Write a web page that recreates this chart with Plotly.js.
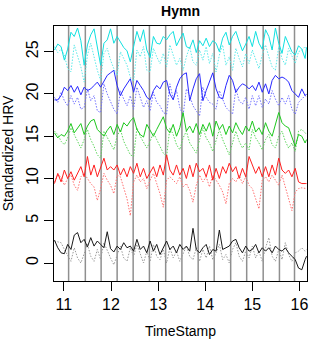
<!DOCTYPE html>
<html>
<head>
<meta charset="utf-8">
<script src="https://cdn.plot.ly/plotly-3.0.1.min.js"></script>
<style>html,body{margin:0;padding:0;background:#fff;}#chart{width:313px;height:342px;}</style>
</head>
<body>
<div id="chart"></div>
<script>
var timeStamp = [10.80,10.87,10.94,11.01,11.08,11.15,11.22,11.29,11.36,11.43,11.50,11.57,11.64,11.71,11.78,11.85,11.92,11.99,12.06,12.13,12.20,12.27,12.34,12.41,12.48,12.55,12.62,12.69,12.76,12.83,12.90,12.97,13.04,13.11,13.18,13.25,13.32,13.39,13.46,13.53,13.60,13.67,13.74,13.81,13.88,13.95,14.02,14.09,14.16,14.23,14.30,14.37,14.44,14.51,14.58,14.65,14.72,14.79,14.86,14.93,15.00,15.07,15.14,15.21,15.28,15.35,15.42,15.49,15.56,15.63,15.70,15.77,15.84,15.91,15.98,16.05,16.12,16.15];

var cyanSolid = [25.2,25.9,25.6,24.0,25.3, 27.3,26.8,27.8,26.3,23.4, 25.8,27.0,27.7,25.6,23.4, 26.0,26.4,27.7,26.0,26.8, 26.2,25.5,25.1,23.8,25.6, 27.4,26.2,27.6,25.2,24.3, 26.8,26.0,25.9,26.8,26.4, 27.0,27.4,25.7,26.5,27.2, 25.6,25.4,26.4,24.9,26.3, 25.7,26.6,25.6,26.3,26.0, 25.0,26.6,27.3,25.8,26.8, 27.4,26.2,25.1,25.9,26.8, 25.6,27.4,26.0,25.3,27.6, 26.8,25.2,27.8,26.0,24.8, 26.8,25.8,25.0,24.6,25.7, 25.3,24.2,25.5];
var cyanDotted = [25.6,24.9,25.3,24.6,23.0, 22.6,25.8,24.4,23.2,21.4, 24.6,26.0,24.2,22.8,21.6, 24.8,25.4,24.0,23.0,22.2, 25.0,24.2,23.4,22.0,21.5, 25.2,24.4,25.6,22.8,22.6, 25.4,24.4,23.6,24.8,23.2, 25.8,24.6,23.4,24.2,22.8, 24.4,25.6,23.8,23.4,25.2, 24.0,25.6,23.6,24.8,22.6, 24.6,25.8,23.4,24.4,22.8, 25.4,24.2,23.2,24.8,23.6, 25.2,24.0,23.0,24.6,25.8, 24.4,23.2,22.8,25.6,24.2, 23.4,25.4,24.4,23.6,25.0, 25.2,25.6,25.4];
var blueSolid = [19.3,19.3,19.8,20.8,20.4, 21.0,20.2,20.9,19.9,20.8, 20.4,20.6,21.0,21.4,20.8, 21.6,22.2,22.5,22.8,21.0, 19.8,20.6,21.2,21.8,20.2, 21.6,21.0,20.4,19.6,19.3, 20.4,21.0,20.6,21.4,21.6, 20.0,19.3,20.8,21.8,22.3, 22.5,19.2,20.6,21.8,22.4, 19.2,20.4,21.4,22.5,20.6, 19.6,19.4,21.0,22.2,21.6, 20.2,20.8,21.2,21.0,20.6, 21.0,20.4,21.4,20.2,21.2, 20.0,21.6,22.2,21.8,22.0, 21.8,21.4,20.4,20.0,19.6, 20.6,19.8,20.0];
var blueDotted = [19.6,19.0,20.2,19.2,18.6, 19.8,18.8,19.6,18.2,18.4, 20.6,19.2,19.8,18.0,17.8, 21.2,20.0,19.0,18.2,17.6, 20.4,19.4,18.6,19.8,18.2, 20.8,19.6,18.4,19.2,18.0, 20.2,19.0,18.6,17.8,17.6, 21.2,19.4,20.4,18.4,17.5, 20.6,19.8,18.6,18.0,17.4, 20.8,19.6,19.0,18.8,18.2, 20.4,19.4,18.4,18.0,17.6, 20.6,19.2,18.8,19.6,18.2, 19.8,18.6,19.8,18.4,19.4, 18.8,20.4,19.4,18.6,19.6, 18.8,19.8,18.2,17.6,19.0, 19.4,19.8,19.6];
var greenSolid = [15.4,14.8,15.2,15.0,15.6, 16.5,15.4,15.9,16.5,15.2, 16.2,16.8,17.0,15.8,15.4, 15.0,15.7,16.2,15.2,16.4, 15.5,16.6,16.2,16.8,17.2, 15.8,15.2,14.9,16.4,15.6, 15.0,15.8,16.6,17.3,15.9, 15.4,16.4,15.0,16.0,17.8, 15.6,16.2,15.4,16.5,15.2, 16.4,15.6,16.6,15.0,16.8, 15.8,16.4,15.2,16.2,15.4, 16.6,15.8,15.2,16.2,15.6, 16.8,15.5,16.0,15.2,16.6, 15.6,15.0,16.4,17.8,16.6, 16.2,16.0,14.8,13.8,15.2, 15.0,14.2,14.6];
var greenDotted = [15.6,15.2,14.4,14.0,14.8, 16.0,15.2,14.4,13.6,14.6, 15.8,14.6,13.8,12.8,12.4, 15.6,14.8,14.0,13.4,15.0, 15.8,14.4,13.6,12.8,12.6, 16.0,15.0,14.2,13.6,14.4, 15.4,14.6,13.8,13.0,12.6, 16.0,15.2,14.0,13.4,14.8, 15.6,14.2,13.6,13.0,14.6, 16.0,14.8,14.2,13.2,14.4, 15.8,14.6,13.8,12.8,14.2, 15.6,14.4,13.6,14.2,13.4, 15.8,14.8,14.2,13.4,14.6, 15.2,14.0,13.6,15.0,15.6, 14.4,13.6,14.2,13.2,15.6, 15.8,15.4,15.2];
var redSolid = [9.4,10.6,9.6,11.0,10.0, 10.8,9.8,10.6,11.4,10.2, 12.6,10.4,11.6,10.2,11.2, 12.4,11.0,11.4,11.0,11.6, 10.4,11.2,10.2,11.4,10.6, 11.8,10.2,11.2,10.0,10.8, 11.4,10.2,11.6,10.4,12.8, 11.0,10.4,11.6,10.4,11.2, 10.0,11.6,10.2,11.8,10.8, 11.2,10.2,11.6,9.8,11.2, 10.0,11.4,10.6,11.8,10.8, 11.4,10.0,11.2,10.2,12.6, 11.6,10.6,11.4,10.2,11.4, 10.2,11.6,10.4,12.4,11.0, 10.6,11.0,10.2,11.2,9.6, 9.4,9.4,9.4];
var redDotted = [9.6,10.4,10.2,9.2,10.0, 10.4,9.2,8.6,10.2,10.6, 10.0,9.4,9.0,7.4,8.8, 10.6,9.8,9.2,8.2,10.4, 10.2,9.0,7.6,5.6,9.6, 10.4,9.6,10.0,8.8,9.8, 10.6,9.4,8.2,6.6,9.8, 10.2,9.8,9.4,10.2,9.0, 9.4,8.6,7.2,9.2,10.4, 9.6,10.2,9.0,10.4,9.8, 9.2,8.4,7.0,9.4,10.0, 9.6,10.4,9.4,10.2,9.2, 8.8,7.6,6.4,9.8,10.2, 9.6,10.4,9.8,9.2,10.4, 9.0,7.8,6.2,8.4,8.8, 8.9,8.8,8.8];
var blackSolid = [2.7,1.8,1.2,1.1,2.2, 1.6,3.3,3.6,2.4,2.8, 1.9,3.0,2.0,2.6,2.2, 1.8,3.7,1.7,1.3,2.0, 1.6,2.4,1.8,2.0,1.4, 2.8,1.6,2.0,1.2,2.6, 1.4,2.2,1.0,1.8,2.6, 1.6,2.0,1.2,2.2,1.6, 2.0,1.4,4.1,1.6,1.2, 1.8,2.2,1.0,1.6,1.4, 3.9,1.6,1.8,2.0,2.6, 2.8,1.8,1.2,2.0,1.4, 1.6,2.2,1.2,1.8,1.4, 1.8,1.2,2.0,1.6,1.4, 1.8,1.2,0.8,0.4,-0.6, -0.8,0.4,0.8];
var greyDotted = [2.6,2.5,2.4,1.6,0.8, 0.2,1.8,0.6,0.0,1.2, 2.2,0.8,0.2,1.6,0.4, 2.4,1.4,0.6,-0.2,1.0, 2.0,0.6,0.2,1.8,0.8, 2.2,1.0,0.0,1.4,0.2, 2.2,0.8,0.4,1.6,0.0, 1.8,0.6,1.4,0.2,1.2, 2.0,0.8,0.4,1.8,0.2, 1.6,0.6,2.0,0.4,1.2, 2.2,0.4,1.0,0.0,1.6, 2.4,0.8,0.2,1.4,0.6, 2.0,0.6,1.4,0.2,1.8, 3.0,0.8,0.2,1.6,0.4, 2.4,1.0,0.2,1.2,1.4, 1.8,1.4,1.6];

var segmentMarks = [11.10,11.455,11.79,12.13,12.47,12.815,13.16,13.505,13.85,14.19,14.54,14.88,15.23,15.575,15.895];
var xTickVals = [11,12,13,14,15,16];
var yTickVals = [0,5,10,15,20,25];

var seriesList = [
  {y: greyDotted, color: '#9a9a9a', dash: '1.5px,1.5px'},
  {y: redDotted, color: '#ff7070', dash: '1.5px,1.5px'},
  {y: greenDotted, color: '#5cd65c', dash: '1.5px,1.5px'},
  {y: blueDotted, color: '#7373ff', dash: '1.5px,1.5px'},
  {y: cyanDotted, color: '#5ceaea', dash: '1.5px,1.5px'},
  {y: blackSolid, color: '#1a1a1a', dash: 'solid'},
  {y: redSolid, color: '#ff2020', dash: 'solid'},
  {y: greenSolid, color: '#1ec81e', dash: 'solid'},
  {y: blueSolid, color: '#2828ff', dash: 'solid'},
  {y: cyanSolid, color: '#10e0e0', dash: 'solid'}
];

var traces = seriesList.map(function(s){
  return {x: timeStamp, y: s.y, type: 'scatter', mode: 'lines',
    line: {color: s.color, width: 1, dash: s.dash}, hoverinfo: 'skip', showlegend: false};
});

var shapes = segmentMarks.map(function(v){
  return {type: 'line', xref: 'x', yref: 'paper', x0: v, x1: v, y0: 0, y1: 1,
    line: {color: '#8f8f8f', width: 1.5}, layer: 'below'};
});

var fontFam = '"Liberation Sans", Arial, sans-serif';
var layout = {
  width: 313, height: 342,
  margin: {l: 54, r: 6, t: 26, b: 61, pad: 0},
  paper_bgcolor: '#ffffff', plot_bgcolor: '#ffffff',
  font: {family: fontFam, color: '#000000'},
  title: {text: '<b>Hymn</b>', font: {size: 14, family: fontFam, color: '#000'},
    xref: 'paper', x: 0.5, xanchor: 'center', y: 0.968, yanchor: 'middle'},
  xaxis: {range: [10.79, 16.16], tickvals: xTickVals, ticktext: xTickVals.map(String),
    ticks: 'outside', ticklen: 9, tickwidth: 1, tickcolor: '#000',
    tickfont: {size: 16}, showline: true, mirror: true, linecolor: '#000', linewidth: 1,
    showgrid: false, zeroline: false,
    title: {text: 'TimeStamp', font: {size: 14}, standoff: 13}},
  yaxis: {range: [-2.13, 28.04], tickvals: yTickVals, ticktext: yTickVals.map(String),
    tickangle: -90, ticks: 'outside', ticklen: 9, tickwidth: 1, tickcolor: '#000',
    tickfont: {size: 16}, showline: true, mirror: true, linecolor: '#000', linewidth: 1,
    showgrid: false, zeroline: false,
    title: {text: 'Standardized HRV', font: {size: 14}, standoff: 6}},
  shapes: shapes
};

Plotly.newPlot('chart', traces, layout, {staticPlot: true, displayModeBar: false});
</script>
</body>
</html>
